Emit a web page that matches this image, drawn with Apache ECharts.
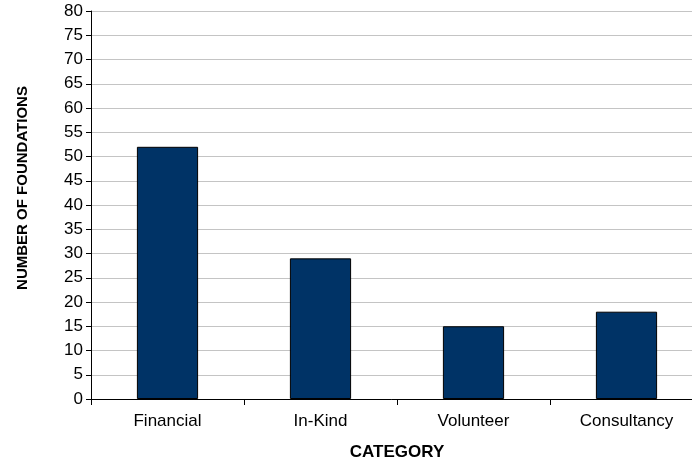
<!DOCTYPE html>
<html>
<head>
<meta charset="utf-8">
<script src="https://cdn.jsdelivr.net/npm/echarts@6/dist/echarts.min.js"></script>
<style>
  html, body { margin: 0; padding: 0; background: #fff; overflow: hidden; }
  #chart { width: 692px; height: 463px; }
</style>
</head>
<body>
<div id="chart"></div>
<script>
// Foundations by type of support
const categories = ['Financial', 'In-Kind', 'Volunteer', 'Consultancy'];
const foundations = [52, 29, 15, 18];
const yMin = 0;
const yMax = 80;
const yStep = 5;

const chart = echarts.init(document.getElementById('chart'), null, { renderer: 'canvas' });
const font = '"Liberation Sans", Arial, sans-serif';

chart.setOption({
  animation: false,
  backgroundColor: '#ffffff',
  grid: {
    left: 91, top: 11, width: 612, height: 388,
    containLabel: false,
    outerBoundsMode: 'none'
  },
  xAxis: {
    type: 'category',
    data: categories,
    name: 'CATEGORY',
    nameLocation: 'middle',
    nameGap: 45,
    nameTextStyle: { fontFamily: font, fontSize: 17, fontWeight: 'bold', color: '#000' },
    axisLine: { lineStyle: { color: '#000', width: 1 } },
    axisTick: { show: true, alignWithLabel: false, length: 6, lineStyle: { color: '#000' } },
    axisLabel: { fontFamily: font, fontSize: 17, color: '#000', margin: 14 },
    splitLine: { show: false }
  },
  yAxis: {
    type: 'value',
    min: yMin,
    max: yMax,
    interval: yStep,
    name: 'NUMBER OF FOUNDATIONS',
    nameLocation: 'middle',
    nameGap: 61,
    nameRotate: 90,
    nameTextStyle: {
      fontFamily: font, fontSize: 15, fontWeight: 'bold', color: '#000',
      padding: [0, 0, 0, 34]
    },
    axisLine: { show: true, lineStyle: { color: '#000', width: 1 } },
    axisTick: { show: true, length: 5, lineStyle: { color: '#000' } },
    axisLabel: { fontFamily: font, fontSize: 17, color: '#000', margin: 8 },
    splitLine: { show: true, lineStyle: { color: '#c4c4c4', width: 1 } }
  },
  series: [{
    type: 'bar',
    data: foundations,
    barWidth: '40%',
    itemStyle: { color: '#003366', borderColor: '#000', borderWidth: 1 }
  }]
});
</script>
</body>
</html>
